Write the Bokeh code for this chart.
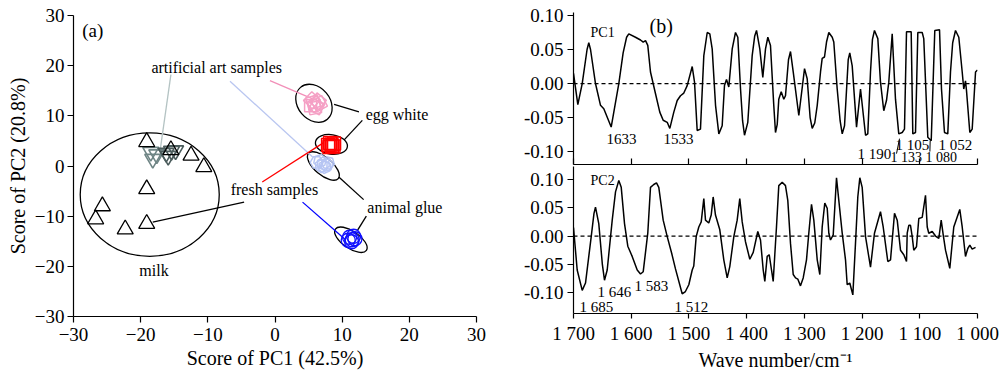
import math
from bokeh.plotting import figure
from bokeh.layouts import row, column
from bokeh.models import Range1d, FixedTicker, Span, Label
from bokeh.embed import file_html
from bokeh.resources import INLINE

FONT = "Liberation Serif"

# ---------------- Panel (a): PCA score plot ----------------
milk_fresh_x = [-19.1, -12.5, -10.6, -19.1, -25.7, -26.7, -22.3, -19.1, -15.5]
milk_fresh_y = [4.8, 2.1, -0.2, -4.6, -8.0, -10.6, -12.6, -11.5, 3.2]
milk_art_light_x = [-18.5, -18.2, -17.6]
milk_art_light_y = [2.8, 1.4, 2.3]
milk_art_dark_x = [-16.2, -15.4, -14.8, -15.9]
milk_art_dark_y = [2.6, 3.0, 3.1, 2.0]
egg_art_x = [5.3, 5.7, 6.0, 6.4, 5.9, 6.6, 5.5, 6.2]
egg_art_y = [12.0, 12.7, 12.3, 12.9, 11.6, 12.4, 13.1, 11.8]
egg_fresh_x = [7.9, 8.2, 8.5, 8.8, 8.4, 8.1, 8.7]
egg_fresh_y = [4.2, 4.6, 4.0, 4.5, 4.3, 3.8, 3.9]
glue_art_x = [6.2, 6.7, 7.2, 7.7, 6.9, 7.9, 7.4]
glue_art_y = [0.7, 1.0, 0.5, 0.2, 0.0, 0.6, -0.2]
glue_fresh_x = [11.1, 11.5, 11.9, 11.4, 11.7, 10.9]
glue_fresh_y = [-14.2, -14.7, -14.5, -15.1, -14.0, -14.8]

# group ellipses (milk, egg art, egg fresh, glue art, glue fresh)
ell_x = [-18.65, 5.8, 8.4, 7.2, 11.3]
ell_y = [-5.7, 12.5, 4.3, 0.0, -14.7]
ell_w = [20.7, 6.2, 4.8, 5.8, 5.6]
ell_h = [24.6, 6.4, 3.9, 3.5, 3.4]

score_ticks = [-30, -20, -10, 0, 10, 20, 30]

# ---------------- Panel (b): loadings ----------------
pc1_wn = [1700, 1692.5, 1684.9, 1676.5, 1673.5, 1670.5, 1661.9, 1653.2, 1647.5, 1634.7,
          1621.5, 1614.0, 1608.0, 1604.2, 1592.6, 1583.9, 1579.2, 1575.2, 1571.3, 1566.6,
          1557.9, 1550.5, 1544.6, 1537.6, 1533.1, 1526.2, 1520.3, 1514.6, 1508.9, 1503.0,
          1494.3, 1490.3, 1485.7, 1480.0, 1474.2, 1468.3, 1463.8, 1459.7, 1453.9, 1448.2,
          1442.4, 1438.4, 1434.9, 1430.9, 1425.0, 1419.3, 1415.3, 1410.6, 1407.0, 1403.7,
          1398.0, 1390.4, 1386.0, 1382.9, 1377.2, 1372.0, 1367.3, 1363.3, 1358.7, 1353.0,
          1350.0, 1347.0, 1344.3, 1340.1, 1335.6, 1332.7, 1327.5, 1324.0, 1319.3, 1309.6,
          1299.7, 1295.1, 1290.0, 1286.4, 1282.0, 1277.7, 1272.0, 1269.1, 1265.1, 1261.6,
          1257.6, 1251.7, 1249.0, 1243.1, 1238.0, 1234.4, 1230.4, 1224.0, 1221.3, 1217.1,
          1209.6, 1202.7, 1194.0, 1190.1, 1185.4, 1182.0, 1178.5, 1172.7, 1168.1, 1162.4,
          1157.7, 1153.7, 1147.8, 1142.1, 1136.4, 1130.5, 1126.5, 1123.0, 1114.9, 1112.1,
          1107.4, 1103.4, 1095.8, 1093.1, 1086.1, 1080.2, 1074.0, 1065.8, 1062.4, 1057.2,
          1051.5, 1046.8, 1043.0, 1038.1, 1032.4, 1026.5, 1023.8, 1020.8, 1019.1, 1013.3,
          1009.2, 1003.4, 1000]
pc1_val = [0.015, -0.031, 0.0, 0.050, 0.060, 0.050, 0.0, -0.032, -0.037, -0.064,
           0.0, 0.045, 0.068, 0.073, 0.068, 0.064, 0.061, 0.063, 0.056, 0.017,
           -0.015, -0.042, -0.054, -0.057, -0.066, -0.042, -0.025, -0.018, -0.014, -0.003,
           0.025, 0.002, -0.069, -0.067, 0.041, 0.075, 0.073, 0.051, -0.032, -0.074,
           -0.062, -0.003, 0.006, -0.005, 0.051, 0.075, 0.068, -0.008, -0.055, -0.076,
           -0.057, 0.041, 0.070, 0.078, 0.051, 0.009, 0.051, 0.068, 0.056, -0.032,
           -0.072, -0.060, -0.023, -0.012, -0.023, -0.018, 0.035, 0.047, 0.017, -0.047,
           0.022, 0.007, -0.050, -0.066, -0.058, -0.032, 0.017, 0.037, 0.039, 0.061,
           0.075, 0.068, 0.061, -0.008, -0.055, -0.074, -0.062, 0.035, 0.045, 0.026,
           -0.064, -0.008, -0.076, -0.074, 0.017, 0.065, 0.078, 0.066, 0.002, -0.040,
           -0.025, 0.002, 0.073, -0.023, -0.074, -0.072, -0.067, 0.076, 0.076, -0.074,
           -0.072, 0.075, 0.075, 0.066, -0.079, -0.084, 0.078, 0.079, -0.008, -0.072,
           -0.074, 0.017, 0.060, 0.078, 0.068, 0.017, -0.008, 0.004, -0.010, -0.072,
           -0.067, 0.017, 0.020]

pc2_wn = [1700, 1693.6, 1684.9, 1679.2, 1669.3, 1664.5, 1661.9, 1656.2, 1650.0, 1646.3,
          1641.6, 1632.9, 1627.2,
          1621.5, 1617.3, 1611.6, 1605.9, 1598.3, 1589.6, 1583.9, 1579.2, 1571.3, 1566.6,
          1560.9, 1556.2, 1552.2, 1544.6, 1537.6, 1530.0, 1523.3, 1511.7, 1506.1, 1500.2,
          1494.3, 1491.6, 1487.4, 1482.9, 1478.7, 1474.2, 1471.3, 1465.6, 1461.4, 1458.0,
          1454.0, 1446.5, 1439.6, 1433.7, 1429.2, 1422.2, 1416.4, 1411.9, 1407.7, 1402.0,
          1394.5, 1388.6, 1380.7, 1376.0, 1371.3, 1368.5, 1364.4, 1360.9, 1356.9, 1354.0,
          1348.3, 1344.3, 1338.4, 1332.7, 1328.7, 1324.0, 1319.3, 1315.3, 1311.4, 1306.7,
          1302.0, 1296.3, 1292.3, 1287.6, 1283.6, 1277.7, 1273.2, 1269.1, 1264.6, 1260.4,
          1257.6, 1254.7, 1250.0, 1244.3, 1240.3, 1234.4, 1228.7, 1225.8, 1221.3, 1216.0,
          1211.4, 1207.4, 1203.9, 1199.8, 1194.0, 1185.4, 1178.5, 1168.1, 1163.4, 1155.4,
          1150.7,
          1143.8, 1139.1, 1133.4, 1127.7, 1123.0, 1121.8, 1119.0, 1116.1, 1113.1, 1110.4,
          1105.7, 1101.7, 1095.8, 1090.1, 1087.1, 1084.4, 1078.5, 1072.7, 1067.0, 1062.9,
          1059.4, 1055.4, 1048.0, 1041.1, 1030.7, 1026.5, 1020.8, 1016.8, 1013.3, 1009.2,
          1003.4]
pc2_val = [0.015, -0.060, -0.096, -0.083, -0.001, 0.040, 0.051, 0.022, -0.050, -0.078,
           -0.060, 0.028, 0.078,
           0.098, 0.086, 0.022, -0.018, -0.036, -0.060, -0.067, -0.063, 0.005, 0.086,
           0.091, 0.094, 0.086, 0.028, -0.001, -0.030, -0.058, -0.102, -0.098, -0.086,
           -0.060, -0.053, -0.001, 0.016, 0.025, 0.066, 0.028, 0.023, 0.037, 0.069,
           0.037, 0.011, -0.042, -0.074, -0.054, -0.001, 0.028, 0.066, 0.025, -0.010,
           -0.041, -0.029, 0.008, -0.007, -0.060, -0.080, -0.036, -0.033, -0.060, -0.080,
           0.016, 0.089, 0.095, 0.089, 0.063, -0.013, -0.068, -0.074, -0.076, -0.088,
           -0.074, -0.042, 0.005, 0.056, 0.028, -0.042, -0.068, 0.016, 0.058, 0.049,
           0.005, -0.007, 0.002, 0.103, 0.063, 0.005, -0.042, -0.086, -0.083, -0.104,
           -0.013, 0.069, 0.103, 0.086, -0.001, -0.055, 0.005, 0.043, 0.016, -0.045,
           -0.042,
           0.040, 0.028, -0.025, -0.033, -0.045, 0.005, 0.019, 0.019, -0.001, -0.025,
           -0.019, 0.031, 0.033, 0.072, 0.016, 0.005, 0.008, 0.0, -0.004, 0.028,
           0.002, -0.025, -0.057, 0.016, 0.047, 0.016, -0.036, -0.022, -0.016, -0.023,
           -0.020]

wn_ticks = [1700, 1600, 1500, 1400, 1300, 1200, 1100, 1000]
wn_labels = ["1 700", "1 600", "1 500", "1 400", "1 300", "1 200", "1 100", "1 000"]
load_ticks = [-0.10, -0.05, 0.0, 0.05, 0.10]
load_labels = ["-0.10", "-0.05", "0.00", "0.05", "0.10"]


def style_axis(ax, tick_in=0, tick_out=6):
    ax.major_label_text_font = FONT
    ax.major_label_text_font_size = "19px"
    ax.major_label_text_color = "black"
    ax.axis_label_text_font = FONT
    ax.axis_label_text_font_size = "20px"
    ax.axis_label_text_font_style = "normal"
    ax.axis_label_text_color = "black"
    ax.axis_line_color = "black"
    ax.axis_line_width = 1.2
    ax.major_tick_line_color = "black"
    ax.major_tick_line_width = 1.2
    ax.minor_tick_line_color = None
    ax.major_tick_in = tick_in
    ax.major_tick_out = tick_out
    ax.major_label_standoff = 4


# ---------------- figure (a) ----------------
pa = figure(width=486, height=373, x_range=Range1d(-30, 30), y_range=Range1d(-30, 30),
            output_backend="svg", toolbar_location=None,
            min_border_left=73, min_border_right=10, min_border_top=15, min_border_bottom=57)
pa.grid.visible = False
pa.outline_line_color = None
for ax in (pa.xaxis[0], pa.yaxis[0]):
    style_axis(ax)
    ax.ticker = FixedTicker(ticks=score_ticks)
pa.xaxis.axis_label = "Score of PC1 (42.5%)"
pa.yaxis.axis_label = "Score of PC2 (20.8%)"
pa.xaxis.major_label_standoff = 5
pa.xaxis.axis_label_standoff = 3
pa.yaxis.major_label_standoff = 3
pa.yaxis.axis_label_standoff = 3

pa.ellipse(ell_x, ell_y, width=ell_w, height=ell_h, angle=[0, -0.87, -0.15, -0.7, -0.6],
           fill_color=None, line_color="black", line_width=1.3)

# leader lines
lead_x0 = [-15.5, -6.7, -0.75, 8.8, 10.3, -1.9, -4.6, 4.1, 9.5, 12.3]
lead_y0 = [18.2, 16.9, 17.0, 12.3, 5.2, -3.2, -7.2, -7.2, -2.2, -12.8]
lead_x1 = [-17.1, 5.6, 5.6, 12.5, 13.0, 7.3, -18.2, 10.5, 13.2, 13.6]
lead_y1 = [3.1, 1.8, 13.4, 10.8, 9.1, 4.7, -11.2, -14.7, -6.7, -10.0]
lead_c = ["#b4c3c3", "#b9c6f0", "#f28fb8", "black", "black", "#ff0000", "black",
          "#0000ff", "black", "black"]
pa.segment(lead_x0, lead_y0, lead_x1, lead_y1, line_color=lead_c, line_width=1.3)

pa.scatter(egg_art_x, egg_art_y, marker="square", size=12,
           angle=[0, 0.3, 0.6, 0.9, 0.2, 0.5, 0.8, 1.1],
           fill_color=None, line_color="#f5a0c5", line_width=1.5)
pa.scatter(egg_fresh_x, egg_fresh_y, marker="square", size=13,
           fill_color=None, line_color="#ff0000", line_width=1.4)
pa.scatter(glue_art_x, glue_art_y, marker="hex", size=13,
           angle=[0, 0.3, 0.6, 0.2, 0.5, 0.8, 0.4],
           fill_color=None, line_color="#b6c5f3", line_width=1.5)
pa.scatter(glue_fresh_x, glue_fresh_y, marker="circle", size=14,
           fill_color=None, line_color="#1010ff", line_width=1.3)
pa.scatter(milk_art_light_x, milk_art_light_y, marker="inverted_triangle", size=16,
           fill_color=None, line_color="#6f8585", line_width=1.6)
pa.scatter(milk_art_dark_x, milk_art_dark_y, marker="inverted_triangle", size=16,
           fill_color=None, line_color="#4b5c5c", line_width=1.6)
pa.scatter(milk_fresh_x, milk_fresh_y, marker="triangle", size=16,
           fill_color=None, line_color="black", line_width=1.3)

for txt, x, y, fs in [("(a)", -28.7, 27.0, "19px"),
                      ("artificial art samples", -18.4, 19.7, "16px"),
                      ("egg white", 13.5, 10.2, "16px"),
                      ("fresh samples", -6.6, -4.7, "16px"),
                      ("animal glue", 13.75, -8.2, "16px"),
                      ("milk", -20.2, -20.8, "16px")]:
    pa.add_layout(Label(x=x, y=y, text=txt, text_font=FONT, text_font_size=fs,
                        text_baseline="middle", text_color="black"))


# ---------------- figure (b) ----------------
def loading_fig(height, yr, top, bottom, label_y):
    p = figure(width=514, height=height, x_range=Range1d(1700, 1000), y_range=yr,
               output_backend="svg", toolbar_location=None,
               min_border_left=87, min_border_right=23,
               min_border_top=top, min_border_bottom=bottom)
    p.grid.visible = False
    p.outline_line_color = None
    style_axis(p.yaxis[0])
    p.yaxis.ticker = FixedTicker(ticks=load_ticks)
    p.yaxis.major_label_overrides = dict(zip(load_ticks, load_labels))
    p.xaxis.ticker = FixedTicker(ticks=wn_ticks)
    p.xaxis.major_label_overrides = dict(zip(wn_ticks, wn_labels))
    p.add_layout(Span(location=0, dimension="width", line_color="black",
                      line_dash="4 3", line_width=1.2))
    # y-axis title, placed left of the tick labels
    p.add_layout(Label(x=1700, y=label_y, x_offset=-74, text="Loading", angle=math.pi / 2,
                       text_align="center", text_baseline="middle", text_font=FONT,
                       text_font_size="20px", text_color="black"))
    return p


pt = loading_fig(166, Range1d(-0.119, 0.1044), 12, 2, 0.007)
style_axis(pt.xaxis[0], tick_in=6, tick_out=0)
pt.xaxis.major_label_text_font_size = "0px"
pt.xaxis.major_label_text_color = None
pt.xaxis.major_label_standoff = 0
pt.line(pc1_wn, pc1_val, line_color="black", line_width=1.5)

pb = loading_fig(207, Range1d(-0.1368, 0.1228), 0, 59, 0.007)
style_axis(pb.xaxis[0], tick_in=0, tick_out=5)
pb.xaxis.axis_label = "Wave number/cm\u207b\u00b9"
pb.xaxis.axis_label_standoff = 2
pb.line(pc2_wn, pc2_val, line_color="black", line_width=1.5)

for txt, x, y, fs in [("PC1", 1670.5, 0.075, "14px"), ("(b)", 1568.3, 0.085, "20px"),
                      ("1633", 1642.8, -0.082, "15px"), ("1533", 1544.1, -0.082, "15px"),
                      ("1 190", 1207.9, -0.103, "15px"), ("1 133", 1150.7, -0.108, "14px"),
                      ("1 105", 1142.1, -0.091, "15px"), ("1 080", 1090.1, -0.108, "14px"),
                      ("1 052", 1067.6, -0.091, "15px")]:
    pt.add_layout(Label(x=x, y=y, text=txt, text_font=FONT, text_font_size=fs,
                        text_baseline="middle", text_color="black"))
pt.segment([1140.3, 1082.0], [-0.103, -0.084], [1135.1, 1082.5], [-0.081, -0.100],
           line_color="black", line_width=1.0)

for txt, x, y, fs in [("PC2", 1670.5, 0.098, "14px"),
                      ("1 685", 1689.6, -0.125, "15px"), ("1 646", 1658.4, -0.098, "15px"),
                      ("1 583", 1594.3, -0.089, "15px"), ("1 512", 1525.0, -0.125, "15px")]:
    pb.add_layout(Label(x=x, y=y, text=txt, text_font=FONT, text_font_size=fs,
                        text_baseline="middle", text_color="black"))

layout = row(pa, column(pt, pb))
open("out.html", "w").write(file_html(layout, INLINE))
